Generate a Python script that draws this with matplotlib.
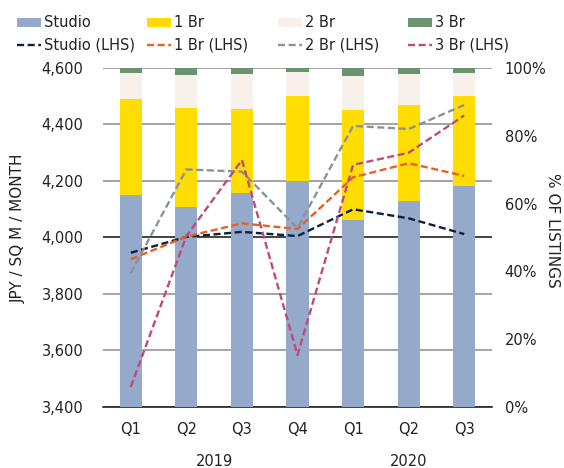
import numpy as np
import matplotlib
matplotlib.use("Agg")
import matplotlib.pyplot as plt
from matplotlib.patches import Patch
from matplotlib.lines import Line2D
from matplotlib.transforms import blended_transform_factory

plt.rcParams['font.family'] = ['DejaVu Sans']
plt.rcParams['font.size'] = 10.5

quarters = ['Q1', 'Q2', 'Q3', 'Q4', 'Q1', 'Q2', 'Q3']
year_labels = ['2019', '2020']
year_groups = [[0, 1, 2, 3], [4, 5, 6]]

# share of listings, %
studio_share = [62.5, 59.1, 63.2, 66.8, 55.3, 60.9, 65.3]
br1_share = [28.4, 29.2, 24.6, 25.0, 32.2, 28.3, 26.5]
br2_share = [7.7, 9.6, 10.5, 7.1, 10.2, 9.1, 6.6]
br3_share = [1.4, 2.1, 1.7, 1.1, 2.3, 1.7, 1.6]

# rent, JPY / sq m / month
studio_rent = [3946, 4002, 4020, 4005, 4100, 4068, 4012]
br1_rent = [3923, 4003, 4050, 4030, 4213, 4263, 4218]
br2_rent = [3874, 4241, 4233, 4033, 4395, 4384, 4469]
br3_rent = [3471, 4005, 4274, 3584, 4257, 4300, 4432]

names = ['Studio', '1 Br', '2 Br', '3 Br']
bar_colors = ['#95a9cb', '#ffdd00', '#f7f0eb', '#6b9271']
line_colors = ['#0c1f40', '#e6621e', '#8a939c', '#bf4a7c']

shares = [studio_share, br1_share, br2_share, br3_share]
rents = [studio_rent, br1_rent, br2_rent, br3_rent]

fig = plt.figure(figsize=(5.64, 4.68), dpi=100)
ax = fig.add_axes([103 / 564, 1 - 407 / 468, 389 / 564, 339 / 468])
axb = ax.twinx()
axl = ax.twinx()

x = np.arange(len(quarters))
dash = (0, (3, 1.5))

# grid + left axis
ax.set_ylim(3400, 4600)
ax.set_yticks(np.arange(3400, 4601, 200))
ax.yaxis.set_major_formatter(matplotlib.ticker.FuncFormatter(lambda v, p: f'{v:,.0f}'))
ax.grid(axis='y', color='#8c8c8c', linewidth=1.1)
for t, line in zip(ax.get_yticks(), ax.get_ygridlines()):
    if t == 4000:
        line.set_color('#111111')
ax.set_xlim(-0.5, len(quarters) - 0.5)
ax.tick_params(axis='y', length=0, pad=14, labelsize=10.5, colors='#222222')
ax.tick_params(axis='x', length=0, pad=11, labelsize=10.5, colors='#222222')
ax.set_xticks(x)
ax.set_xticklabels(quarters)
for s in ['top', 'right', 'left']:
    ax.spines[s].set_visible(False)
ax.spines['bottom'].set_color('#111111')
ax.spines['bottom'].set_linewidth(1.1)

# bars, right axis
bottom = np.zeros(len(quarters))
for vals, c in zip(shares, bar_colors):
    axb.bar(x, vals, 0.4, bottom=bottom, color=c, zorder=2)
    bottom += np.array(vals)
axb.set_ylim(0, 100)
axb.set_yticks(np.arange(0, 101, 20))
axb.yaxis.set_major_formatter(matplotlib.ticker.FuncFormatter(lambda v, p: f'{v:.0f}%'))
axb.tick_params(axis='y', length=0, pad=9, labelsize=10.5, colors='#222222')
for s in axb.spines.values():
    s.set_visible(False)

# lines, left scale
for vals, c in zip(rents, line_colors):
    axl.plot(x, vals, color=c, linewidth=1.7, linestyle=dash)
axl.set_ylim(3400, 4600)
axl.set_yticks([])
for s in axl.spines.values():
    s.set_visible(False)

# axis titles
fig.text(18 / 564, 1 - 228 / 468, 'JPY / SQ M / MONTH', rotation=90,
         ha='center', va='center', fontsize=11, color='#222222')
fig.text(552 / 564, 1 - 230 / 468, '% OF LISTINGS', rotation=-90,
         ha='center', va='center', fontsize=11, color='#222222')

# year labels
tr = blended_transform_factory(ax.transData, ax.transAxes)
for lab, grp in zip(year_labels, year_groups):
    ax.text(np.mean(grp), -0.16, lab, transform=tr, ha='center', va='center',
            fontsize=10.5, color='#222222')

# legend, one block per unit type
col_x = [10, 140, 271, 401]
for name, bc, lc, cx in zip(names, bar_colors, line_colors, col_x):
    handles = [Patch(facecolor=bc, edgecolor='none'),
               Line2D([0], [0], color=lc, linewidth=1.7, linestyle=dash)]
    fig.legend(handles, [name, name + ' (LHS)'], loc='upper left',
               bbox_to_anchor=(cx / 564, 1 - 8 / 468), frameon=False,
               handlelength=1.65, handleheight=0.6, handletextpad=0.2,
               labelspacing=0.5, borderpad=0, fontsize=10.5,
               labelcolor='#222222')

fig.savefig('out.png', dpi=100)
